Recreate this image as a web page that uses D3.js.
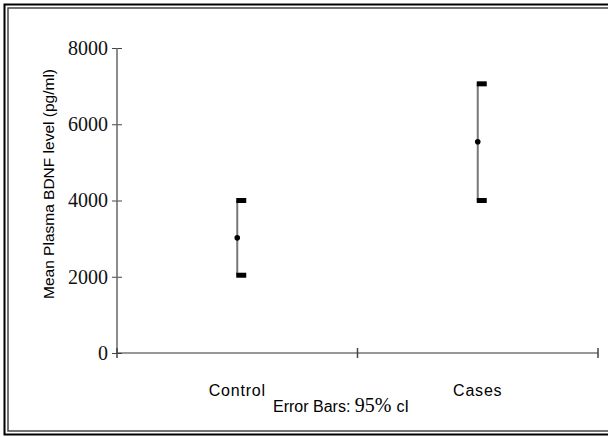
<html>
<head>
  <meta charset="utf-8">
  <title>BDNF error bars</title>
  <script src="https://cdn.jsdelivr.net/npm/d3@7"></script>
  <style>
    body { margin: 0; background: #fff; }
    svg { display: block; }
  </style>
</head>
<body>
  <div id="chart"></div>
  <script>
    // groups and their mean + 95% CI (pg/ml)
    const groups = ["Control", "Cases"]
    const means = [3020, 5540]
    const lower = [2040, 4000]
    const upper = [4000, 7060]
    const yTicks = [0, 2000, 4000, 6000, 8000]

    const W = 608, H = 437

    let svg = d3.select("#chart").append("svg")
      .attr("width", W)
      .attr("height", H)

    // double frame, runs off the right edge like the picture
    svg.append("rect").attr("x", 4.5).attr("y", 4.5)
      .attr("width", 620).attr("height", 430)
      .attr("fill", "none").attr("stroke", "#000").attr("stroke-width", 2)
    svg.append("rect").attr("x", 8).attr("y", 8)
      .attr("width", 620).attr("height", 423)
      .attr("fill", "none").attr("stroke", "#444").attr("stroke-width", 1.5)

    let x = d3.scaleBand().domain(groups).range([117, 598]).padding(0)
    let y = d3.scaleLinear().domain([0, 8000]).range([353, 48])

    //y axis
    let yAxis = svg.append("g")
      .attr("transform", `translate(${x.range()[0]},0)`)
      .call(d3.axisLeft(y).tickValues(yTicks).tickFormat(d3.format("d")).tickSize(5).tickPadding(4))
    yAxis.select(".domain").remove()
    yAxis.selectAll(".tick line").attr("x1", -5).attr("x2", 5).attr("stroke", "#444")
    yAxis.selectAll(".tick text")
      .attr("font-family", "'Liberation Serif', 'Times New Roman', serif")
      .attr("font-size", "20px").attr("fill", "#111")
    yAxis.append("line")
      .attr("y1", y(0)).attr("y2", y(8000))
      .attr("stroke", "#666").attr("stroke-width", 1.5)

    //x axis
    let xAxis = svg.append("g")
      .attr("transform", `translate(0,${y(0)})`)
    xAxis.append("line")
      .attr("x1", x.range()[0]).attr("x2", x.range()[1])
      .attr("stroke", "#333").attr("stroke-width", 1.2)
    let edges = [x.range()[0]].concat(groups.map(g => x(g) + x.bandwidth()))
    xAxis.selectAll(".edge").data(edges).join("line")
      .attr("class", "edge")
      .attr("x1", d => d).attr("x2", d => d)
      .attr("y1", -5).attr("y2", 5)
      .attr("stroke", "#444").attr("stroke-width", 1.5)
    xAxis.selectAll(".lab").data(groups).join("text")
      .attr("class", "lab")
      .attr("x", d => x(d) + x.bandwidth() / 2)
      .attr("y", 43)
      .attr("text-anchor", "middle")
      .attr("font-family", "'Liberation Sans', Arial, sans-serif")
      .attr("font-size", "16px")
      .attr("letter-spacing", "0.8px")
      .attr("fill", "#000")
      .text(d => d)

    //axis title
    svg.append("text")
      .attr("transform", `translate(54,184) rotate(-90)`)
      .attr("text-anchor", "middle")
      .attr("font-family", "'Liberation Sans', Arial, sans-serif")
      .attr("font-size", "15.5px")
      .attr("fill", "#000")
      .text("Mean Plasma BDNF level (pg/ml)")

    //note under the axis
    let note = svg.append("text")
      .attr("x", 273).attr("y", 412)
      .attr("font-family", "'Liberation Sans', Arial, sans-serif")
      .attr("font-size", "16px")
      .attr("fill", "#000")
    note.append("tspan").text("Error Bars: ")
    note.append("tspan")
      .attr("font-family", "'Liberation Serif', 'Times New Roman', serif")
      .attr("font-size", "20px")
      .text("95% ")
    note.append("tspan").text("cI")

    //error bars
    let data = groups.map((g, i) => ({ g: g, m: means[i], lo: lower[i], hi: upper[i] }))
    let bars = svg.selectAll(".bar").data(data).join("g")
      .attr("class", "bar")
      .attr("transform", d => `translate(${x(d.g) + x.bandwidth() / 2},0)`)
    bars.append("line")
      .attr("y1", d => y(d.hi)).attr("y2", d => y(d.lo))
      .attr("stroke", "#777").attr("stroke-width", 2)
    bars.selectAll(".cap").data(d => [d.lo, d.hi]).join("rect")
      .attr("class", "cap")
      .attr("x", -1).attr("y", d => y(d) - 2.5)
      .attr("width", 10).attr("height", 5)
      .attr("fill", "#000")
    bars.append("circle")
      .attr("cy", d => y(d.m)).attr("r", 2.8)
      .attr("fill", "#000")
  </script>
</body>
</html>
